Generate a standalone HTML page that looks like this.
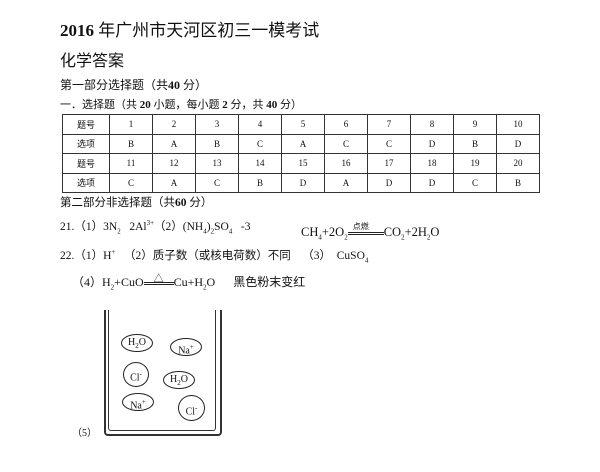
<!DOCTYPE html>
<html><head><meta charset="utf-8"><style>
body{margin:0;width:600px;height:472px;background:#fff;position:relative;overflow:hidden;font-family:"Liberation Serif","Noto Serif CJK SC",serif;color:#111}
.a{position:absolute;white-space:nowrap}
table{position:absolute;left:62px;top:114px;border-collapse:collapse;font-size:9px;table-layout:fixed;width:478px}
td{border:1px solid #333;height:18.5px;padding:0;text-align:center}
td:first-child{font-family:"Noto Sans CJK SC",sans-serif}
.s{font-family:"Liberation Serif","Noto Sans CJK SC",sans-serif}
sub,sup{font-size:7px}
.el{position:absolute;border:1.3px solid #222;border-radius:50%;font-size:10px;text-align:center}
</style></head><body>
<div class="a" style="left:60px;top:16px;font-size:17px"><b>2016</b>&nbsp;<span style="font-family:'Noto Sans CJK SC',sans-serif;font-size:17px">年广州市天河区初三一模考试</span></div>
<div class="a s" style="left:60px;top:47px;font-size:16px;font-family:'Noto Sans CJK SC',sans-serif">化学答案</div>
<div class="a s" style="left:60px;top:76px;font-size:12px">第一部分选择题（共<b>40</b> 分）</div>
<div class="a s" style="left:60px;top:96px;font-size:11px">一．选择题（共 <b>20</b> 小题，每小题 <b>2</b> 分，共 <b>40</b> 分）</div>
<table>
<colgroup><col style="width:47px"><col span="10"></colgroup>
<tr><td>题号</td><td>1</td><td>2</td><td>3</td><td>4</td><td>5</td><td>6</td><td>7</td><td>8</td><td>9</td><td>10</td></tr>
<tr><td>选项</td><td>B</td><td>A</td><td>B</td><td>C</td><td>A</td><td>C</td><td>C</td><td>D</td><td>B</td><td>D</td></tr>
<tr><td>题号</td><td>11</td><td>12</td><td>13</td><td>14</td><td>15</td><td>16</td><td>17</td><td>18</td><td>19</td><td>20</td></tr>
<tr><td>选项</td><td>C</td><td>A</td><td>C</td><td>B</td><td>D</td><td>A</td><td>D</td><td>D</td><td>C</td><td>B</td></tr>
</table>
<div class="a s" style="left:60px;top:194px;font-size:11.5px">第二部分非选择题（共<b>60</b> 分）</div>
<div class="a s" style="left:60px;top:218px;font-size:11.5px">21.（1）3N<sub>2</sub>&nbsp;&nbsp; 2Al<sup>3+</sup>（2）(NH<sub>4</sub>)<sub>2</sub>SO<sub>4</sub>&nbsp;&nbsp; -3</div>
<div class="a s" style="left:301px;top:225px;font-size:12.5px">CH<sub>4</sub>+2O<sub>2</sub><span style="display:inline-block;width:36px;border-top:1px solid #222;border-bottom:1px solid #222;height:1px;vertical-align:middle;position:relative"><span style="position:absolute;top:-12px;left:5px;font-size:8px;font-family:'Noto Sans CJK SC'">点燃</span></span>CO<sub>2</sub>+2H<sub>2</sub>O</div>
<div class="a s" style="left:60px;top:247px;font-size:11.5px">22.（1）H<sup>+</sup>&nbsp;&nbsp;&nbsp;（2）质子数（或核电荷数）不同&nbsp;&nbsp;&nbsp;&nbsp;（3）&nbsp; CuSO<sub>4</sub></div>
<div class="a s" style="left:72px;top:273px;font-size:12px">（4）H<sub>2</sub>+CuO<span style="display:inline-block;width:30px;border-top:1px solid #222;border-bottom:1px solid #222;height:1px;vertical-align:middle;position:relative"><span style="position:absolute;top:-13px;left:10px;font-size:10px">△</span></span>Cu+H<sub>2</sub>O&nbsp;&nbsp;&nbsp;&nbsp;&nbsp;&nbsp;黑色粉末变红</div>
<div class="a" style="left:104px;top:310px;width:114px;height:124px;border:2px solid #333;border-top:none;border-radius:0 0 4px 4px"></div>
<div class="a" style="left:108px;top:310px;width:106px;height:120px;border:1px solid #333;border-top:none;border-radius:0 0 3px 3px"></div>
<div class="el" style="left:121px;top:334px;width:30px;height:16px;line-height:16px">H<sub>2</sub>O</div>
<div class="el" style="left:170px;top:338px;width:30px;height:16px;line-height:16px">Na<sup>+</sup></div>
<div class="el" style="left:123px;top:362px;width:24px;height:23px;line-height:23px">Cl<sup>-</sup></div>
<div class="el" style="left:163px;top:371px;width:30px;height:16px;line-height:16px">H<sub>2</sub>O</div>
<div class="el" style="left:122px;top:393px;width:30px;height:16px;line-height:16px">Na<sup>+</sup></div>
<div class="el" style="left:178px;top:395px;width:25px;height:24px;line-height:24px">Cl<sup>-</sup></div>
<div class="a s" style="left:72px;top:424px;font-size:10px">（5）</div>
</body></html>
